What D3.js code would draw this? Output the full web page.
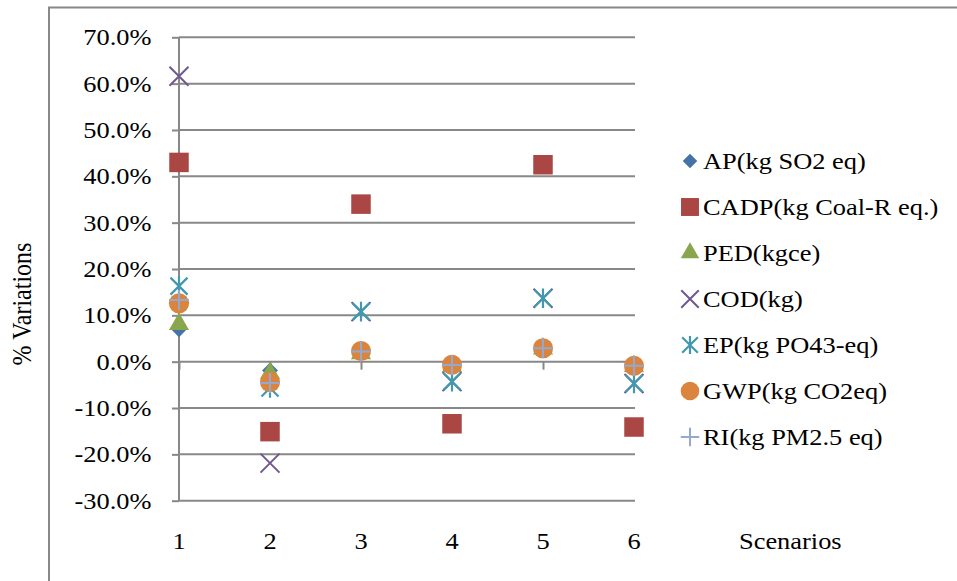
<!DOCTYPE html>
<html>
<head>
<meta charset="utf-8">
<script src="https://cdn.jsdelivr.net/npm/d3@7"></script>
<style>
  html, body { margin: 0; padding: 0; background: #fff; }
  svg { display: block; }
  text { font-family: "Liberation Serif", "Times New Roman", serif; fill: #000; }
</style>
</head>
<body>
<svg id="chart" width="957" height="581"></svg>
<script>
// ---- data ----
const scenarios = [1, 2, 3, 4, 5, 6];
const yTicks = [-0.3, -0.2, -0.1, 0, 0.1, 0.2, 0.3, 0.4, 0.5, 0.6, 0.7];
const seriesNames = ["AP(kg SO2 eq)", "CADP(kg Coal-R eq.)", "PED(kgce)", "COD(kg)", "EP(kg PO43-eq)", "GWP(kg CO2eq)", "RI(kg PM2.5 eq)"];
const AP   = [0.070, -0.019, 0.018, -0.010, 0.028, -0.010];
const CADP = [0.430, -0.151, 0.340, -0.134, 0.425, -0.141];
const PED  = [0.081, -0.025, 0.018, -0.010, 0.028, -0.010];
const COD  = [0.616, -0.219, 0.108, -0.043, 0.137, -0.047];
const EP   = [0.163, -0.057, 0.108, -0.043, 0.137, -0.047];
const GWP  = [0.126, -0.044, 0.023, -0.007, 0.029, -0.009];
const RI   = [0.133, -0.046, 0.022, -0.007, 0.029, -0.009];
const xTitle = "Scenarios";
const yTitle = "% Variations";

const seriesValues = [AP, CADP, PED, COD, EP, GWP, RI];
const seriesColors = ["#4572A7", "#AA4643", "#89A54E", "#71588F", "#4198AF", "#DB843D", "#93A9CF"];
const seriesShapes = ["diamond", "square", "triangle", "x", "star", "circle", "plus"];

const svg = d3.select("#chart");
const SX = 1.1; // horizontal stretch of text in reference
const FS = "24px";
const grid = "#888888";

// outer chart border (only left & top visible)
svg.append("rect").attr("x", 49).attr("y", 7.5).attr("width", 1000).attr("height", 700)
  .attr("fill", "none").attr("stroke", grid).attr("stroke-width", 2);

const x = d3.scaleLinear().domain([1, 6]).range([179, 634]);
const y = d3.scaleLinear().domain([-0.3, 0.7]).range([500.7, 37.3]);

// horizontal gridlines
svg.append("g").selectAll("line").data(yTicks).join("line")
  .attr("x1", x(1)).attr("x2", x(6) + 1)
  .attr("y1", d => y(d)).attr("y2", d => y(d))
  .attr("stroke", grid).attr("stroke-width", 2);

// y axis line + ticks
const yAxis = d3.axisLeft(y).tickValues(yTicks).tickSize(7).tickFormat("");
const yg = svg.append("g").attr("transform", `translate(${x(1)},0)`).call(yAxis);
yg.select(".domain").attr("stroke", grid).attr("stroke-width", 2).attr("d", `M0,${y(0.7)}V${y(-0.3)}`);
yg.selectAll(".tick line").attr("stroke", grid).attr("stroke-width", 2);

// y tick labels (hyphen minus as in reference)
const locale = d3.formatLocale({decimal: ".", thousands: ",", grouping: [3], currency: ["", ""], minus: "-"});
const fmt = locale.format(".1%");
svg.append("g").selectAll("text").data(yTicks).join("text")
  .attr("transform", d => `translate(151.5,${y(d)}) scale(${SX},1)`)
  .attr("text-anchor", "end").attr("dy", "0.33em").style("font-size", FS)
  .text(d => fmt(d));

// x axis along 0 with downward ticks
const xAxis = d3.axisBottom(x).tickValues(scenarios).tickSize(8).tickFormat("");
const xg = svg.append("g").attr("transform", `translate(0,${y(0)})`).call(xAxis);
xg.select(".domain").remove();
xg.selectAll(".tick line").attr("stroke", grid).attr("stroke-width", 2);

// x tick labels at bottom
svg.append("g").selectAll("text").data(scenarios).join("text")
  .attr("transform", d => `translate(${x(d)},541) scale(${SX},1)`)
  .attr("text-anchor", "middle").attr("dy", "0.33em").style("font-size", FS)
  .text(d => d);

// axis titles
svg.append("text").attr("transform", `translate(739,541) scale(${SX},1)`)
  .attr("dy", "0.33em").style("font-size", FS).text(xTitle);
svg.append("text").attr("transform", `translate(22,304) rotate(-90) scale(1,${SX})`)
  .attr("text-anchor", "middle").attr("dy", "0.33em").style("font-size", FS).text(yTitle);

// marker drawing
function drawMarker(g, shape, color, s) {
  switch (shape) {
    case "diamond":
      g.append("path").attr("d", d3.symbol(d3.symbolSquare, 125 * s * s)())
        .attr("transform", "rotate(45)").attr("fill", color);
      break;
    case "square":
      g.append("path").attr("d", d3.symbol(d3.symbolSquare, 380 * s * s)()).attr("fill", color);
      break;
    case "triangle":
      g.append("path").attr("d", d3.symbol(d3.symbolTriangle, 175 * s * s)()).attr("fill", color);
      break;
    case "circle":
      g.append("path").attr("d", d3.symbol(d3.symbolCircle, 320 * s * s)()).attr("fill", color);
      break;
    case "x": {
      const r = 9.5 * s;
      g.append("path").attr("d", `M${-r},${-r}L${r},${r}M${-r},${r}L${r},${-r}`)
        .attr("stroke", color).attr("stroke-width", 2).attr("fill", "none");
      break;
    }
    case "star": {
      const r = 8.5 * s;
      g.append("path").attr("d", `M${-r},${-r}L${r},${r}M${-r},${r}L${r},${-r}M0,${-r * 1.15}V${r * 1.15}`)
        .attr("stroke", color).attr("stroke-width", 2.2).attr("fill", "none");
      break;
    }
    case "plus": {
      const r = 10 * s;
      g.append("path").attr("d", `M${-r},0H${r}M0,${-r}V${r}`)
        .attr("stroke", color).attr("stroke-width", 2).attr("fill", "none");
      break;
    }
  }
}

// points
seriesValues.forEach((vals, si) => {
  const sg = svg.append("g");
  vals.forEach((v, i) => {
    const g = sg.append("g").attr("transform", `translate(${x(scenarios[i])},${y(v)})`);
    drawMarker(g, seriesShapes[si], seriesColors[si], 1);
  });
});

// legend
const legend = svg.append("g");
seriesNames.forEach((name, i) => {
  const ly = 161 + i * 46;
  const g = legend.append("g").attr("transform", `translate(690,${ly})`);
  drawMarker(g, seriesShapes[i], seriesColors[i], 0.92);
  legend.append("text").attr("transform", `translate(703,${ly}) scale(${SX},1)`)
    .attr("dy", "0.33em").style("font-size", FS).text(name);
});
</script>
</body>
</html>
